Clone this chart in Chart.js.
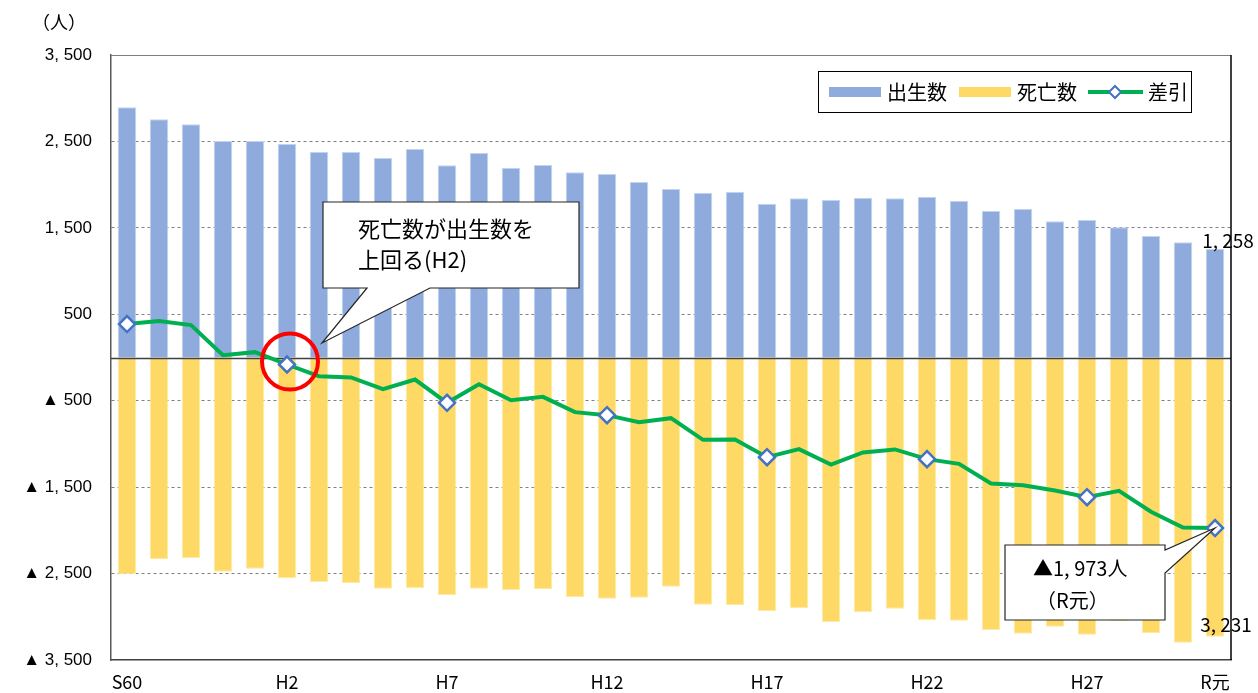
<!DOCTYPE html>
<html>
<head>
<meta charset="utf-8">
<script src="https://cdn.jsdelivr.net/npm/chart.js"></script>
<style>
  html, body { margin: 0; padding: 0; background: #fff; }
</style>
</head>
<body>
<canvas id="chart" width="1258" height="693"></canvas>
<script>
// 年次（S60〜R元）
const years = ['S60','S61','S62','S63','H1','H2','H3','H4','H5','H6','H7','H8','H9','H10',
  'H11','H12','H13','H14','H15','H16','H17','H18','H19','H20','H21','H22','H23','H24',
  'H25','H26','H27','H28','H29','H30','R元'];
// 目盛に出す年
const shownYears = ['S60','H2','H7','H12','H17','H22','H27','R元'];

const births = [2895, 2756, 2698, 2505, 2505, 2474, 2381, 2378, 2308, 2412, 2224, 2366,
  2196, 2227, 2143, 2123, 2031, 1950, 1907, 1918, 1780, 1842, 1822, 1849, 1842, 1861,
  1814, 1695, 1718, 1576, 1591, 1506, 1406, 1333, 1258];
const deaths = [-2508, -2335, -2323, -2478, -2443, -2555, -2597, -2609, -2675, -2667, -2748,
  -2675, -2690, -2682, -2775, -2790, -2779, -2652, -2860, -2867, -2933, -2902, -3060, -2948,
  -2906, -3037, -3045, -3153, -3195, -3115, -3207, -3049, -3191, -3300, -3231];
const diff = [387, 421, 375, 27, 62, -81, -216, -231, -367, -255, -524, -309, -494, -455,
  -632, -667, -748, -702, -953, -949, -1153, -1060, -1238, -1099, -1064, -1176, -1231,
  -1458, -1477, -1539, -1616, -1543, -1785, -1967, -1973];

const yTickValues = [3500, 2500, 1500, 500, -500, -1500, -2500, -3500];

const JP = '"Noto Sans CJK JP", sans-serif';
const fmt = n => (n < 0 ? '▲ ' : '') + Math.abs(n).toLocaleString('en-US').replace(',', ', ');

// 枠・ゼロ線・凡例・吹き出し
const extras = {
  id: 'extras',
  afterDatasetDraw(chart, args) {
    if (args.index !== 0) return;
    // ゼロ線（棒の上、折れ線の下）
    const { ctx, chartArea: a, scales: { y } } = chart;
    const y0 = Math.round(y.getPixelForValue(0)) + 0.5;
    ctx.save();
    ctx.strokeStyle = '#404040';
    ctx.lineWidth = 1.5;
    ctx.beginPath(); ctx.moveTo(a.left, y0); ctx.lineTo(a.right, y0); ctx.stroke();
    ctx.restore();
  },
  afterDraw(chart) {
    const { ctx, chartArea: a, scales: { x, y } } = chart;
    const ds = chart.data.datasets;
    ctx.save();
    // 枠
    ctx.strokeStyle = '#7f7f7f';
    ctx.lineWidth = 1;
    ctx.beginPath(); ctx.moveTo(a.left, a.top + 0.5); ctx.lineTo(a.right, a.top + 0.5); ctx.stroke();
    ctx.strokeStyle = '#000';
    ctx.lineWidth = 1.5;
    ctx.beginPath(); ctx.moveTo(a.right, a.top); ctx.lineTo(a.right, a.bottom); ctx.stroke();

    // 単位
    ctx.fillStyle = '#000';
    ctx.font = '18px ' + JP;
    ctx.textBaseline = 'middle';
    ctx.textAlign = 'left';
    ctx.fillText('（人）', 32, 22);

    // 凡例
    ctx.fillStyle = '#fff';
    ctx.fillRect(818, 71, 374, 41);
    ctx.strokeStyle = '#000';
    ctx.lineWidth = 1;
    ctx.strokeRect(818.5, 71.5, 373, 41);
    ctx.font = '20px ' + JP;
    ctx.fillStyle = ds[0].backgroundColor; ctx.fillRect(829, 87, 52, 10);
    ctx.fillStyle = '#000'; ctx.fillText(ds[0].label, 887, 92);
    ctx.fillStyle = ds[1].backgroundColor; ctx.fillRect(959, 87, 52, 10);
    ctx.fillStyle = '#000'; ctx.fillText(ds[1].label, 1017, 92);
    ctx.strokeStyle = ds[2].borderColor; ctx.lineWidth = 4;
    ctx.beginPath(); ctx.moveTo(1088, 92); ctx.lineTo(1143, 92); ctx.stroke();
    ctx.fillStyle = '#fff'; ctx.strokeStyle = ds[2].pointBorderColor; ctx.lineWidth = 2;
    ctx.beginPath(); ctx.moveTo(1115, 86); ctx.lineTo(1121, 92); ctx.lineTo(1115, 98); ctx.lineTo(1109, 92); ctx.closePath();
    ctx.fill(); ctx.stroke();
    ctx.fillStyle = '#000'; ctx.fillText(ds[2].label, 1148, 92);

    // 末尾の値ラベル
    const last = years.length - 1;
    ctx.font = '19px ' + JP;
    ctx.textAlign = 'center';
    ctx.fillText(births[last].toLocaleString('en-US').replace(',', ', '),
      x.getPixelForValue(last) + 13, y.getPixelForValue(births[last]) - 8);
    ctx.fillText(Math.abs(deaths[last]).toLocaleString('en-US').replace(',', ', '),
      x.getPixelForValue(last) + 11, y.getPixelForValue(deaths[last]) - 12);

    // 赤丸（H2）
    const iH2 = years.indexOf('H2');
    ctx.strokeStyle = '#ff0000';
    ctx.lineWidth = 4;
    ctx.beginPath();
    ctx.arc(x.getPixelForValue(iH2) + 3, y.getPixelForValue(diff[iH2]) - 3, 28, 0, Math.PI * 2);
    ctx.stroke();

    // 吹き出し
    const callout = (pts) => {
      ctx.beginPath();
      ctx.moveTo(pts[0][0], pts[0][1]);
      pts.slice(1).forEach(p => ctx.lineTo(p[0], p[1]));
      ctx.closePath();
      ctx.fillStyle = '#fff';
      ctx.fill();
      ctx.strokeStyle = '#262626';
      ctx.lineWidth = 1.2;
      ctx.stroke();
    };
    callout([[323, 202], [579, 202], [579, 288], [430, 288], [322, 343], [367, 288], [323, 288]]);
    const iR = years.indexOf('R元');
    callout([[1005, 545], [1165, 545], [1165, 550], [x.getPixelForValue(iR), y.getPixelForValue(diff[iR])],
      [1165, 573], [1165, 620], [1005, 620]]);

    ctx.fillStyle = '#000';
    ctx.textAlign = 'left';
    ctx.font = '22px ' + JP;
    ctx.fillText('死亡数が出生数を', 358, 229);
    ctx.fillText('上回る(H2)', 358, 260);
    ctx.font = '20px ' + JP;
    ctx.fillText('▲' + Math.abs(diff[iR]).toLocaleString('en-US').replace(',', ', ') + '人', 1033, 568);
    ctx.fillText('（R元）', 1036, 600);
    ctx.restore();
  }
};

new Chart(document.getElementById('chart'), {
  data: {
    labels: years,
    datasets: [
      { type: 'bar', label: '出生数', data: births, backgroundColor: '#8FAADC',
        borderColor: '#C5D4EE', borderWidth: 1, grouped: false, order: 1,
        barPercentage: 0.58, categoryPercentage: 1 },
      { type: 'bar', label: '死亡数', data: deaths, backgroundColor: '#FFD966',
        borderColor: '#FFE9A6', borderWidth: 1, grouped: false, order: 2,
        barPercentage: 0.58, categoryPercentage: 1 },
      { type: 'line', label: '差引', data: diff, borderColor: '#00B050', borderWidth: 4,
        tension: 0, order: 0, pointStyle: 'rectRot',
        pointRadius: c => shownYears.includes(years[c.dataIndex]) ? 8 : 0,
        pointBackgroundColor: '#fff', pointBorderColor: '#4472C4', pointBorderWidth: 2.5 }
    ]
  },
  options: {
    responsive: false,
    animation: false,
    layout: { padding: { left: 0, top: 55, right: 27, bottom: 0 }, autoPadding: false },
    plugins: { legend: { display: false }, tooltip: { enabled: false } },
    scales: {
      x: {
        offset: true,
        grid: { display: false },
        border: { display: true, color: '#404040', width: 1.5 },
        afterFit: s => { s.height = 33; },
        ticks: {
          autoSkip: false, maxRotation: 0, padding: 3, color: '#000',
          font: { family: JP, size: 18 },
          callback: (v, i) => shownYears.includes(years[i]) ? years[i] : ''
        }
      },
      y: {
        min: -3500, max: 3500,
        afterBuildTicks: s => { s.ticks = yTickValues.map(v => ({ value: v })); },
        afterFit: s => { s.width = 111; },
        grid: {
          drawTicks: false, tickLength: 0, lineWidth: 1,
          color: c => Math.abs(c.tick.value) === 3500 ? 'rgba(0,0,0,0)' : '#7f7f7f'
        },
        border: { display: true, color: '#595959', width: 1.5, dash: [3, 3] },
        ticks: {
          padding: 19, color: '#000',
          font: { family: '"Liberation Sans", Arial, sans-serif', size: 17 },
          callback: v => fmt(v)
        }
      }
    }
  },
  plugins: [extras]
});
</script>
</body>
</html>
